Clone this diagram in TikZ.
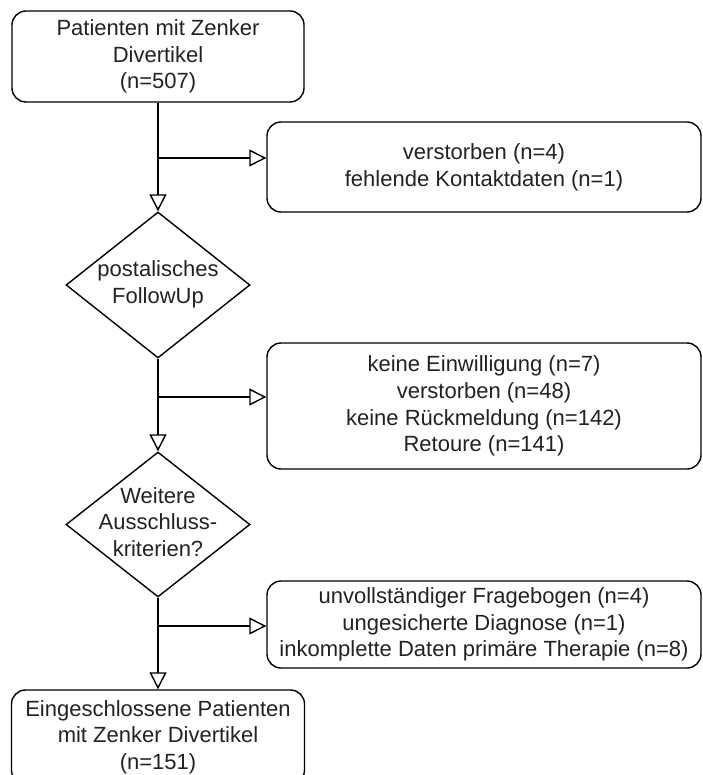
\documentclass[tikz,border=0pt]{standalone}
\usepackage{fontspec}
\setmainfont{Liberation Sans}
\usetikzlibrary{shapes.geometric,arrows.meta}
\definecolor{ink}{HTML}{222222}
\begin{document}
\begin{tikzpicture}[x=1pt,y=-1pt,
  every node/.style={font=\fontsize{22}{26.7}\selectfont, align=center, text=ink},
  box/.style={draw, line width=1.4pt, rounded corners=14pt, inner sep=0pt},
  dec/.style={draw, line width=1.4pt, diamond, inner sep=0pt, minimum width=184pt, minimum height=146pt},
  conn/.style={line width=1.4pt},
  arr/.style={conn, -{Triangle[open, length=17pt, width=17pt, line width=1.4pt]}}
]
\useasboundingbox (0,0) rectangle (702,775);
\clip (0,0) rectangle (702,775);

% main column
\node[box, minimum width=292pt, minimum height=91pt] (top) at (158,56.5)
  {Patienten mit Zenker\\Divertikel\\(n=507)};
\node[dec] (d1) at (158,285) {};
\node (d1t) at (158,284) {postalisches\\FollowUp};
\node[dec, minimum height=145pt] (d2) at (158,524.5) {};
\node (d2t) at (158,522) {Weitere\\Ausschluss-\\kriterien?};
\node[box, minimum width=293pt, minimum height=94pt] (bot) at (158,737)
  {Eingeschlossene Patienten\\mit Zenker Divertikel\\(n=151)};

% exclusion boxes
\node[box, minimum width=434pt, minimum height=90pt] (b1) at (484,167)
  {verstorben (n=4)\\fehlende Kontaktdaten (n=1)};
\node[box, minimum width=434pt, minimum height=126pt] (b2) at (484,406)
  {keine Einwilligung (n=7)\\verstorben (n=48)\\keine Rückmeldung (n=142)\\Retoure (n=141)};
\node[box, minimum width=434pt, minimum height=87pt] (b3) at (484,624.5)
  {unvollständiger Fragebogen (n=4)\\ungesicherte Diagnose (n=1)\\inkomplette Daten primäre Therapie (n=8)};

% branch points
\coordinate (j1) at (158,158);
\coordinate (j2) at (158,397);
\coordinate (j3) at (158,626);

% connectors
\draw[arr] (top.south) -- (d1.north);
\draw[arr] (d1.south) -- (d2.north);
\draw[arr] (d2.south) -- (bot.north);
\draw[arr] (j1) -- (j1 -| b1.west);
\draw[arr] (j2) -- (j2 -| b2.west);
\draw[arr] (j3) -- (j3 -| b3.west);
\end{tikzpicture}
\end{document}
